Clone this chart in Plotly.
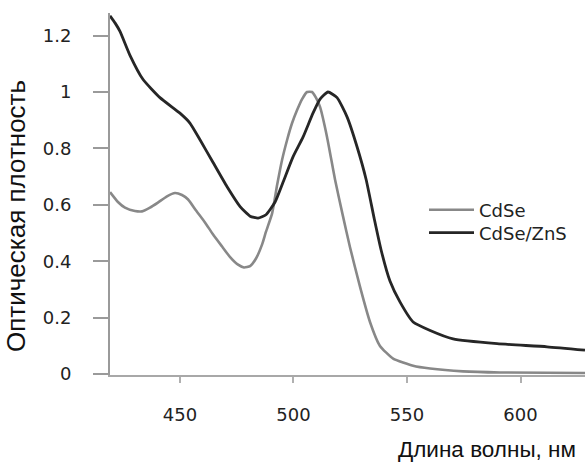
import plotly.graph_objects as go

# Wavelength (nm) and optical density
cdse_x = [419.2, 422.7, 425.8, 430.2, 433.3, 436.8, 440.3, 444.3, 447.8, 450.9, 453.6,
          457.1, 461.1, 464.6, 468.5, 472.1, 475.6, 478.2, 480.9, 483.5, 486.2, 487.9,
          490.6, 492.8, 495.0, 497.2, 499.4, 501.6, 503.8, 506.0, 508.2, 509.9, 511.7,
          514.8, 518.3, 521.8, 524.9, 529.3, 533.7, 538.1, 543.9, 552.7, 560.2, 574.7,
          591.0, 628.4]
cdse_y = [0.645, 0.610, 0.590, 0.578, 0.577, 0.590, 0.608, 0.630, 0.642, 0.635, 0.619,
          0.580, 0.537, 0.495, 0.453, 0.415, 0.388, 0.378, 0.383, 0.410, 0.460, 0.505,
          0.570, 0.670, 0.760, 0.830, 0.890, 0.936, 0.975, 1.000, 1.000, 0.980, 0.947,
          0.840, 0.690, 0.560, 0.450, 0.310, 0.185, 0.100, 0.055, 0.030, 0.020, 0.010,
          0.006, 0.004]

zns_x = [419.2, 421.4, 423.6, 428.0, 433.7, 441.2, 450.0, 454.4, 458.9, 464.6, 470.7,
         476.5, 480.9, 484.4, 487.9, 491.9, 495.4, 499.8, 504.2, 508.6, 511.7, 515.2,
         519.2, 523.6, 528.0, 532.0, 535.6, 538.6, 542.5, 546.9, 552.7, 560.2, 570.3,
         589.7, 611.7, 628.4]
zns_y = [1.270, 1.245, 1.215, 1.130, 1.045, 0.980, 0.925, 0.890, 0.830, 0.750, 0.665,
         0.594, 0.560, 0.553, 0.565, 0.610, 0.680, 0.770, 0.840, 0.925, 0.975, 1.000,
         0.980, 0.912, 0.806, 0.690, 0.550, 0.440, 0.330, 0.256, 0.185, 0.155, 0.125,
         0.108, 0.097, 0.085]

series_names = ["CdSe", "CdSe/ZnS"]
x_tick_vals = [450, 500, 550, 600]
y_tick_vals = [0, 0.2, 0.4, 0.6, 0.8, 1.0, 1.2]
y_tick_text = ["0", "0.2", "0.4", "0.6", "0.8", "1", "1.2"]

fig = go.Figure()
fig.add_trace(go.Scatter(x=cdse_x, y=cdse_y, mode="lines", name=series_names[0], legend="legend",
                         line=dict(color="#888888", width=2.6, shape="spline", smoothing=0.5)))
fig.add_trace(go.Scatter(x=zns_x, y=zns_y, mode="lines", name=series_names[1], legend="legend2",
                         line=dict(color="#262626", width=2.8, shape="spline", smoothing=0.5)))

L, R, T, B = 110, 0, 13, 91
pw, ph = 585 - L - R, 466 - T - B

leg_common = dict(xanchor="left", yanchor="middle", bgcolor="rgba(0,0,0,0)",
                  font=dict(family="DejaVu Sans", size=18, color="#222"), itemwidth=45)

fig.update_layout(
    width=585, height=466,
    margin=dict(l=L, r=R, t=T, b=B),
    paper_bgcolor="white", plot_bgcolor="white",
    showlegend=True,
    legend=dict(x=(424 - L) / pw, y=(375 - 210) / ph, **leg_common),
    legend2=dict(x=(424 - L) / pw, y=(375 - 233) / ph, **leg_common),
    font=dict(family="DejaVu Sans", color="#222"),
    annotations=[
        dict(text="Оптическая плотность", x=(16 - L) / pw, y=(375 - 216) / ph,
             xref="paper", yref="paper", showarrow=False, textangle=-90,
             font=dict(family="Liberation Sans", size=26, color="#111"),
             xanchor="center", yanchor="middle"),
        dict(text="Длина волны, нм", x=(578 - L) / pw, y=(375 - 449) / ph,
             xref="paper", yref="paper", showarrow=False,
             font=dict(family="Liberation Sans", size=22.5, color="#111"),
             xanchor="right", yanchor="middle"),
    ],
)

fig.update_xaxes(range=[419.2, 628.4], tickvals=x_tick_vals, showgrid=False, zeroline=False,
                 showline=True, linecolor="#a8a8a8", linewidth=2,
                 ticks="outside", ticklen=6, tickwidth=2, tickcolor="#b0b0b0",
                 ticklabelstandoff=16, tickfont=dict(family="DejaVu Sans", size=18, color="#222"))
fig.update_yaxes(range=[-0.003, 1.28], tickvals=y_tick_vals, ticktext=y_tick_text,
                 showgrid=False, zeroline=False,
                 showline=True, linecolor="#9a9a9a", linewidth=2,
                 ticks="outside", ticklen=15, tickwidth=1.5, tickcolor="#9a9a9a",
                 ticklabelstandoff=18, tickfont=dict(family="DejaVu Sans", size=18, color="#222"))

fig.write_html("out.html")
